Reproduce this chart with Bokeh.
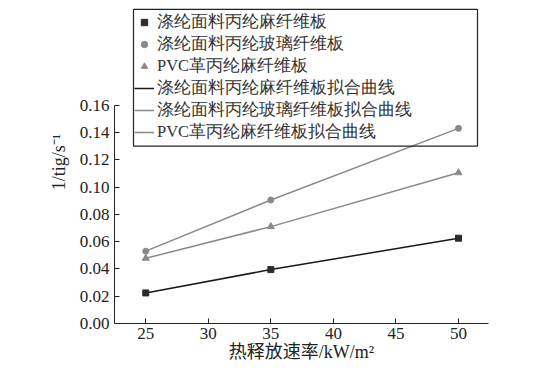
from bokeh.plotting import figure
from bokeh.models import Legend, LegendItem, Range1d, FixedTicker, NumeralTickFormatter, BoxAnnotation
from bokeh.embed import file_html
from bokeh.resources import INLINE

x = [25, 35, 50]
y_pp_flax = [0.0224, 0.0395, 0.0625]
y_pp_glass = [0.0530, 0.0905, 0.1430]
y_pvc_flax = [0.0478, 0.0710, 0.1105]
labels = ["涤纶面料丙纶麻纤维板", "涤纶面料丙纶玻璃纤维板", "PVC革丙纶麻纤维板",
          "涤纶面料丙纶麻纤维板拟合曲线", "涤纶面料丙纶玻璃纤维板拟合曲线", "PVC革丙纶麻纤维板拟合曲线"]
x_ticks = [25, 30, 35, 40, 45, 50]
y_ticks = [0.0, 0.02, 0.04, 0.06, 0.08, 0.10, 0.12, 0.14, 0.16]

FONT = "Liberation Serif, Noto Sans CJK SC"
dark = "#2b2b2b"
grey = "#8a8a8a"

# layout (picture pixels): frame left 114, bottom 324, 0.16 at 105
X0, X1 = 22.5, 52.4
FRAME_W = 374
FRAME_H = 324
Y_PER_PX = 0.16 / 219


def px_x(px):
    return X0 + (px - 114) * (X1 - X0) / FRAME_W


def px_y(py):
    return (324 - py) * Y_PER_PX


# frame extends above the 0.16 axis top so the legend (which overlaps) is not clipped
p = figure(width=531, height=364, output_backend="svg", toolbar_location=None,
           x_range=Range1d(X0, X1), y_range=Range1d(0, FRAME_H * Y_PER_PX),
           min_border_left=114, min_border_right=43, min_border_top=0, min_border_bottom=40)
p.outline_line_color = None
p.xgrid.visible = False
p.ygrid.visible = False
p.background_fill_color = "white"

l1 = p.line(x, y_pp_flax, line_color="#1a1a1a", line_width=1.5)
l2 = p.line(x, y_pp_glass, line_color=grey, line_width=1.5)
l3 = p.line(x, y_pvc_flax, line_color=grey, line_width=1.5)
s1 = p.scatter(x, y_pp_flax, marker="square", size=6, color=dark)
s2 = p.scatter(x, y_pp_glass, marker="circle", size=6, color=grey)
s3 = p.scatter(x, y_pvc_flax, marker="triangle", size=7, color=grey)

for ax in (p.xaxis[0], p.yaxis[0]):
    ax.major_tick_in = 5
    ax.major_tick_out = 0
    ax.minor_tick_line_color = None
    ax.axis_line_color = "#222222"
    ax.major_tick_line_color = "#222222"
    ax.major_label_text_font = "Liberation Serif"
    ax.major_label_text_font_size = "17px"
    ax.major_label_text_color = "#222222"
    ax.axis_label_text_font = FONT
    ax.axis_label_text_font_size = "18px"
    ax.axis_label_text_font_style = "normal"
    ax.axis_label_text_color = "#222222"

p.xaxis.ticker = FixedTicker(ticks=x_ticks)
p.yaxis.ticker = FixedTicker(ticks=y_ticks)
p.yaxis.bounds = (0, 0.16)
p.yaxis.formatter = NumeralTickFormatter(format="0.00")
p.xaxis.axis_label = "热释放速率/kW/m²"
p.yaxis.axis_label = "1/tig/s⁻¹"
p.xaxis.major_label_standoff = 4
p.xaxis.axis_label_standoff = 0
p.yaxis.axis_label_standoff = 8

# legend frame
box = BoxAnnotation(left=px_x(133), right=px_x(477), top=px_y(9), bottom=px_y(146),
                    fill_alpha=0, line_color="#222222", line_width=1.2, line_alpha=1)
p.add_layout(box)

legend = Legend(items=[
    LegendItem(label=labels[0], renderers=[s1]),
    LegendItem(label=labels[1], renderers=[s2]),
    LegendItem(label=labels[2], renderers=[s3]),
    LegendItem(label=labels[3], renderers=[l1]),
    LegendItem(label=labels[4], renderers=[l2]),
    LegendItem(label=labels[5], renderers=[l3]),
], location=(20, 180))
legend.label_text_font = "Liberation Serif"
legend.label_text_font_size = "16.5px"
legend.label_text_color = "#333333"
legend.label_height = 16
legend.glyph_height = 16
legend.glyph_width = 20
legend.label_standoff = 3
legend.spacing = 0
legend.padding = 0
legend.margin = 0
legend.border_line_color = None
legend.background_fill_alpha = 0
p.add_layout(legend, "center")

open("out.html", "w").write(file_html(p, INLINE))
